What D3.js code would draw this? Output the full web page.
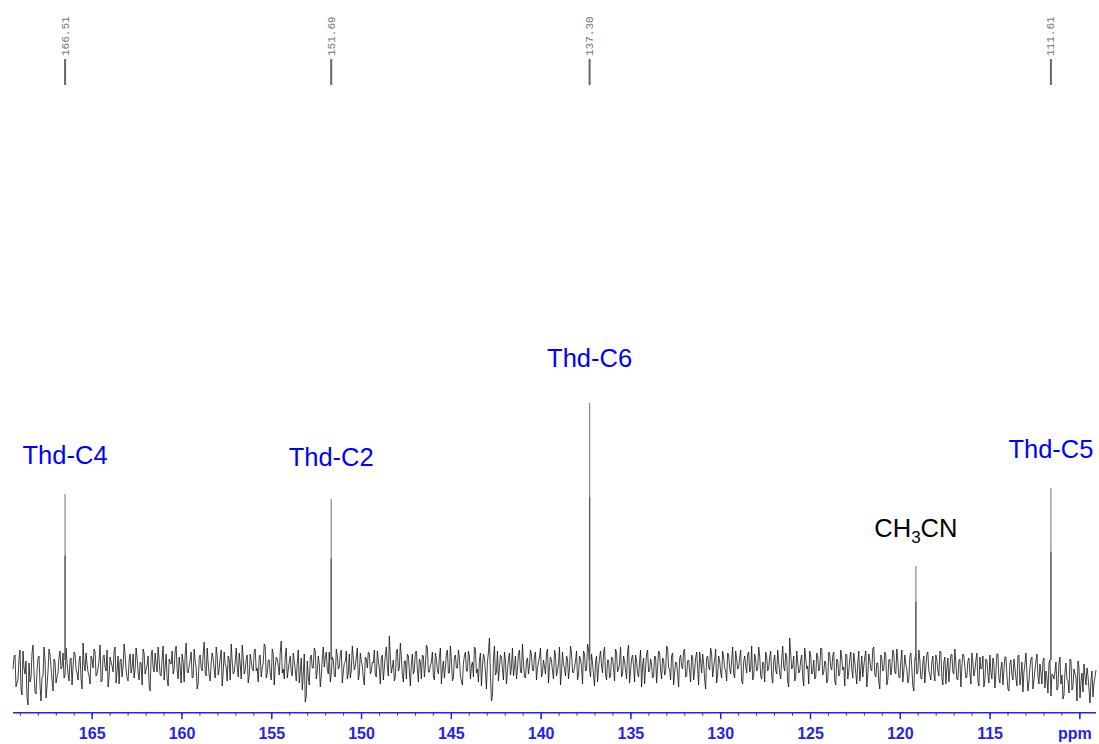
<!DOCTYPE html>
<html><head><meta charset="utf-8">
<script src="https://cdn.jsdelivr.net/npm/d3@7"></script>
<style>body{margin:0;background:#fff}svg{display:block}</style>
</head><body>
<svg id="c" width="1099" height="744"></svg>
<script>
// ---- data ----
const peakPpm = [166.51, 151.69, 137.30, 119.13, 111.61];
const peakHeight = [171, 166, 262, 99, 177];
const peakTopLabels = ["166.51", "151.69", "137.30", null, "111.61"];
const annotations = [
  {text: "Thd-C4", ppm: 166.51, y: 463.5, color: "#0000ff", sub: false},
  {text: "Thd-C2", ppm: 151.69, y: 466, color: "#0000ff", sub: false},
  {text: "Thd-C6", ppm: 137.30, y: 367, color: "#0000ff", sub: false},
  {text: "Thd-C5", ppm: 111.61, y: 458, color: "#0000ff", sub: false},
  {text: "CH3CN", ppm: 119.13, y: 537, color: "#000000", sub: true}
];
const majorTicks = [165, 160, 155, 150, 145, 140, 135, 130, 125, 120, 115, 110];
const majorLabels = ["165","160","155","150","145","140","135","130","125","120","115","ppm"];
const ppmStart = 169.41, ppmEnd = 109.10;
// baseline noise (intensity units): even samples
const noiseA = [
-4,10,-18,6,-24,14,-9,-32,2,-13,20,-27,-6,9,-36,-11,5,-21,16,-2,
-26,3,-12,8,-4,12,-10,2,-16,7,-1,11,-8,4,-14,22,-6,1,-11,9,
-3,13,-9,5,-17,8,-2,15,-12,3,-7,18,-5,-19,6,-1,10,-13,4,-8,
11,-4,7,-15,2,16,-9,0,-21,9,-3,12,-7,5,-11,19,-2,-14,6,1,
-9,14,-5,8,-18,3,10,-6,-1,13,-12,4,-24,7,-3,11,-8,17,-10,2,
6,-13,9,-4,15,-7,1,-16,5,21,-9,3,-2,12,-14,7,-5,10,-11,4,
-6,16,-3,8,-12,2,19,-8,5,-15,11,-1,6,-10,24,-4,9,-13,3,-7,
12,-5,2,-18,7,-9,-37,4,-20,10,-3,14,-6,1,-11,18,8,-4,13,-8,
5,-12,9,-2,15,-7,3,-14,11,-5,7,-1,17,-9,4,-13,8,-3,12,-6,
2,-10,14,-4,7,-15,10,-2,29,-8,5,-12,16,-3,8,-17,4,11,-6,1,
-9,13,-4,6,-14,9,-1,17,-7,3,-11,12,-5,8,-19,4,-2,15,-8,5,
-13,10,-3,7,-16,2,13,-6,9,-1,-12,16,-4,5,-21,11,-7,3,27,-36,
6,-10,14,-3,8,-15,4,-6,12,-2,-11,9,-4,15,-8,2,-13,7,-1,10,
-6,13,-3,8,-12,5,-9,16,-2,4,-14,10,-5,18,-7,1,-11,6,-3,12,
-8,4,-15,9,-2,14,-6,21,-4,11,-10,3,-17,7,-1,12,-9,5,-13,8,
-3,16,-7,2,-12,9,-5,13,-18,6,-1,10,-8,4,-22,7,-3,15,-6,1,
-11,8,-2,12,-14,5,-7,17,-4,9,-20,3,-9,6,-1,14,-12,4,-6,10,
-15,7,-3,13,-8,2,-24,9,-5,11,-2,16,-10,4,-13,8,-6,12,-3,5,
-9,14,-4,7,-16,3,-1,11,-7,19,-12,5,-3,9,-14,2,13,-6,8,-11,
4,-5,15,-8,6,-2,12,-17,27,-4,9,-13,3,-6,10,-21,7,-1,14,-9,
5,-12,8,-3,16,-7,2,-15,10,-5,13,-20,4,-9,7,-2,11,-14,6,-4,
12,-8,3,-16,9,-1,14,-10,5,-6,18,-12,2,-24,7,-4,10,-15,6,-3,
11,-9,4,-13,15,-6,1,-18,8,-3,-26,12,-7,5,-14,9,-2,13,-10,3,
-8,10,-5,14,-12,3,-19,7,-4,11,-9,2,-15,6,-1,9,-13,4,-7,12,
-11,5,-16,8,-3,-22,6,-9,10,-14,1,-7,11,-18,3,-5,8,-24,2,-10,
6,-13,9,-20,3,-7,12,-26,-2,8,-15,4,-11,1,-19,7,-6,-28,5,-9,
-14,3,-22,8,-10,-30,2,-16,6,-25,-4,-12,4,-33,-8,1,-20,-11,-38,-6,
-18,-5
];
// baseline noise (intensity units): odd samples, between the even ones
const noiseB = [
8,-22,-14,15,-30,-3,4,-40,-17,12,-8,-29,7,-20,-12,18,-33,-6,10,-15,
6,-18,-7,14,-2,-13,17,-9,5,-20,13,-4,-15,9,-24,1,12,-7,-19,6,
16,-11,-3,20,-16,10,-6,-22,8,-1,14,-18,9,4,-12,21,-5,-16,11,-2,
-13,17,-8,3,-20,12,-4,9,-26,15,-7,1,18,-10,6,-15,11,-21,3,14,
-4,19,-14,-2,11,-17,22,-8,5,-13,16,-3,-19,10,-6,23,-11,2,-16,12,
-5,18,-10,7,-21,13,-2,9,-15,4,-7,17,-12,1,20,-9,6,-18,11,-4,
14,-6,-17,10,-3,21,-13,5,-9,16,-20,8,-1,13,-8,-14,17,-5,9,-11,
4,-16,15,-7,-25,11,-31,-12,7,-3,17,-14,9,-22,6,-2,13,-9,-17,8,
-10,16,-4,11,-18,2,14,-8,-13,19,-5,8,-15,12,-1,-20,6,13,-9,3,
15,-12,5,-19,10,-3,18,-11,7,-2,-16,13,-6,22,-10,4,-14,9,-21,11,
-5,14,-17,3,10,-12,20,-7,-1,13,-15,6,-9,17,-4,-13,11,-8,19,-16,
8,-3,15,-11,-20,9,-6,14,-14,3,18,-8,-17,12,-2,7,-24,13,-10,-30,
19,-7,-16,10,-4,13,-19,6,-10,17,-3,-14,11,-7,21,-12,4,-9,15,-5,
9,-15,3,17,-8,-2,12,-18,8,-6,15,-11,2,-20,13,-4,9,-14,19,-7,
-2,14,-10,6,-19,11,-5,16,-12,2,-21,9,-3,14,-8,18,-15,5,-11,7,
-16,12,-4,18,-9,3,-14,20,-6,10,-17,4,-12,15,-1,-19,11,-7,6,-13,
9,-18,14,-5,7,-10,19,-3,-15,12,-8,2,-22,10,-4,16,-11,5,-17,8,
-6,13,-20,4,11,-14,7,-2,17,-12,5,-18,9,-7,14,-3,-16,10,-9,18,
-13,6,-2,15,-19,9,-8,13,-4,-15,11,-6,18,-11,3,-17,8,-3,14,-18,
10,-9,3,-14,19,-6,8,-22,11,-1,-16,14,-8,5,-12,17,-4,-19,9,-7,
-14,12,-6,17,-10,4,-18,13,-2,9,-16,6,-11,15,-5,-21,10,-7,13,-13,
3,-19,14,-5,-12,8,-22,11,-4,16,-9,2,-17,10,-6,13,-20,5,-10,15,
-7,16,-12,3,-17,10,-4,-14,12,-21,6,-9,15,-13,2,-18,11,-6,-15,9,
-16,5,-11,13,-20,8,-3,-17,10,-7,16,-14,4,-22,11,-2,-12,7,-19,3,
-6,12,-21,-4,9,-15,4,-18,-8,7,-23,11,-13,-3,-20,8,-10,-26,5,-15,
-3,-21,10,-12,-27,1,-9,-17,6,-24,-5,11,-19,-8,4,-23,-13,2,-31,-10,
-7,-25,1,-19,-34,-6,-14,-28,5,-21,-9,-36,-2,-17,-27,-11,-3,-24,-15,-32,
-12
];

// ---- chart ----
const svg = d3.select("#c");
const x = d3.scaleLinear().domain([ppmStart, ppmEnd]).range([13, 1096]);
const y = d3.scaleLinear().domain([-50, 320]).range([715, 345]);
const axisY = 712.7;

// noise trace: interleave the two sample sets along the ppm axis
const pts = [];
const stepA = (ppmEnd - ppmStart) / (noiseA.length - 1);
noiseA.forEach((v, i) => {
  pts.push([ppmStart + i * stepA, v]);
  if (i < noiseB.length) pts.push([ppmStart + (i + 0.5) * stepA, noiseB[i]]);
});
svg.append("path")
  .attr("d", d3.line().x(d => x(d[0])).y(d => y(d[1]))(pts))
  .attr("fill", "none").attr("stroke", "#111").attr("stroke-width", 0.8)
  .attr("stroke-linejoin", "miter");

// peaks
svg.selectAll("line.peak").data(peakPpm).join("line")
  .attr("class", "peak")
  .attr("x1", d => x(d)).attr("x2", d => x(d))
  .attr("y1", y(5)).attr("y2", (d, i) => y(peakHeight[i]))
  .attr("stroke", "#888").attr("stroke-width", 1.2);
svg.selectAll("line.peakc").data(peakPpm).join("line")
  .attr("class", "peakc")
  .attr("x1", d => x(d)).attr("x2", d => x(d))
  .attr("y1", y(5)).attr("y2", (d, i) => y(peakHeight[i] * 0.64))
  .attr("stroke", "#555").attr("stroke-width", 1.2);

// peak picking labels at top
peakPpm.forEach((p, i) => {
  const lab = peakTopLabels[i];
  if (!lab) return;
  const px = x(p);
  svg.append("line").attr("x1", px).attr("x2", px).attr("y1", 59).attr("y2", 85)
    .attr("stroke", "#666").attr("stroke-width", 2);
  svg.append("text").text(lab)
    .attr("transform", `translate(${px + 3.5},56) rotate(-90)`)
    .attr("font-family", "'Liberation Mono','DejaVu Sans Mono',monospace")
    .attr("font-size", 11).attr("fill", "#777").attr("text-anchor", "start");
});

// annotations
annotations.forEach(a => {
  const t = svg.append("text")
    .attr("x", x(a.ppm)).attr("y", a.y)
    .attr("text-anchor", "middle")
    .attr("font-family", "'Liberation Sans', Arial, Helvetica, sans-serif")
    .attr("font-size", 25.5).attr("fill", a.color);
  if (a.sub) {
    t.append("tspan").text("CH");
    t.append("tspan").text("3").attr("font-size", 17).attr("dy", 6);
    t.append("tspan").text("CN").attr("dy", -6);
  } else {
    t.text(a.text);
  }
});

// x axis
const blue = "#2323ee";
svg.append("line").attr("x1", 13).attr("x2", 1096).attr("y1", axisY).attr("y2", axisY)
  .attr("stroke", blue).attr("stroke-width", 1.5);
const minor = d3.range(169, 109, -1);
svg.selectAll("line.minor").data(minor).join("line")
  .attr("class", "minor")
  .attr("x1", d => x(d)).attr("x2", d => x(d))
  .attr("y1", axisY).attr("y2", axisY + 3)
  .attr("stroke", blue).attr("stroke-width", 1);
svg.selectAll("line.major").data(majorTicks).join("line")
  .attr("class", "major")
  .attr("x1", d => x(d)).attr("x2", d => x(d))
  .attr("y1", axisY).attr("y2", axisY + 6.5)
  .attr("stroke", blue).attr("stroke-width", 1.5);
svg.selectAll("text.tl").data(majorTicks).join("text")
  .attr("class", "tl")
  .attr("x", (d, i) => i === majorTicks.length - 1 ? x(d) - 5 : x(d)).attr("y", 739)
  .attr("text-anchor", "middle")
  .attr("font-family", "'Liberation Sans', Arial, Helvetica, sans-serif")
  .attr("font-weight", "bold").attr("font-size", 16).attr("fill", blue)
  .text((d, i) => majorLabels[i]);
</script>
</body></html>
